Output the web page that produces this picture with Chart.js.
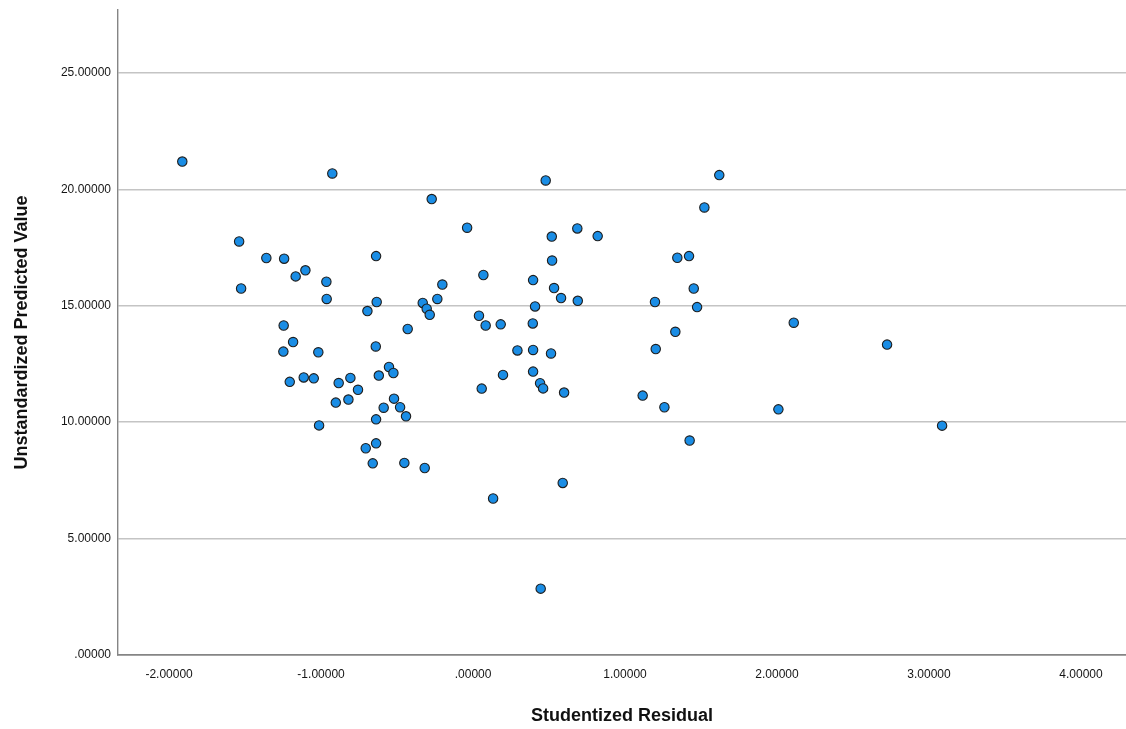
<!DOCTYPE html>
<html>
<head>
<meta charset="utf-8">
<title>Unstandardized Predicted Value vs Studentized Residual</title>
<script src="https://cdn.jsdelivr.net/npm/chart.js@4.4.1/dist/chart.umd.min.js"></script>
<style>
  html, body { margin: 0; padding: 0; background: #ffffff; }
  #wrap { width: 1126px; height: 729px; }
</style>
</head>
<body>
<div id="wrap"><canvas id="chart" width="1126" height="729"></canvas></div>
<script>
// Studentized residuals (x) and unstandardized predicted values (y), one entry per case
const studentizedResidual = [
  -1.913, -0.926, -1.539, -1.360, -1.243, -0.638, -1.103, -1.167, -0.965, -1.526,
  -0.963, -0.634, -0.695, -1.246, -0.430, -1.184, -1.248, -1.018, -0.640, -0.553,
  -0.524, -0.620, -0.807, -1.114, -1.048, -1.206, -0.884, -0.757, -0.820, -0.903,
  -0.520, -0.588, -0.480, -0.441, -0.638, -1.013, -0.638, -0.706, -0.660, -0.452,
   0.478, -0.272, -0.039,  0.518,  0.686,  0.820,  0.520,  0.068,  0.395, -0.202,
   0.533, -0.235,  0.579,  0.689,  1.197, -0.331, -0.305, -0.285,  0.408,  0.039,
   0.083,  0.182,  0.393,  0.292,  0.395,  0.513,  0.197,  0.395,  0.441,  0.461,
   0.057,  0.599,  1.116,  1.202, -0.318,  0.590,  0.132,  0.445,  1.620,  1.522,
   1.344,  1.421,  1.452,  1.474,  2.110,  1.331,  2.724,  1.259,  2.009,  3.086,
   1.425
];
const predictedValue = [
  21.19, 20.68, 17.76, 17.05, 17.02, 17.13, 16.52, 16.26, 16.03, 15.74,
  15.29, 15.16, 14.77, 14.15, 14.00, 13.44, 13.03, 13.00, 13.25, 12.37,
  12.11, 12.00, 11.90, 11.92, 11.88, 11.73, 11.68, 11.39, 10.97, 10.84,
  11.01, 10.62, 10.64, 10.25, 10.12,  9.86,  9.09,  8.88,  8.23,  8.25,
  20.38, 19.58, 18.35, 17.97, 18.32, 17.99, 16.94, 16.32, 16.10, 15.91,
  15.76, 15.29, 15.33, 15.21, 15.16, 15.12, 14.87, 14.61, 14.97, 14.57,
  14.15, 14.20, 14.24, 13.08, 13.10, 12.95, 12.03, 12.17, 11.67, 11.45,
  11.44, 11.27, 11.14, 13.14,  8.03,  7.39,  6.72,  2.85, 20.61, 19.22,
  17.06, 17.13, 15.74, 14.94, 14.27, 13.88, 13.33, 10.64, 10.55,  9.85,
   9.21
];

// Axis tick values
const xTickValues = [-2, -1, 0, 1, 2, 3, 4];
const yTickValues = [0, 5, 10, 15, 20, 25];

// Axis ranges
const xRange = [-2.336, 4.296];
const yRange = [0, 27.7];

// Five-decimal labels with the leading zero dropped (".00000", "-1.00000")
function fiveDecimals(v) {
  let s = Math.abs(v).toFixed(5);
  if (s.startsWith('0.')) s = s.slice(1);
  return (v < 0 ? '-' : '') + s;
}

const points = studentizedResidual.map((x, i) => ({ x: x, y: predictedValue[i] }));

const labelFont = { family: '"Liberation Sans", Arial, sans-serif', size: 12 };
const titleFont = { family: '"Liberation Sans", Arial, sans-serif', size: 18, weight: 'bold' };

new Chart(document.getElementById('chart'), {
  type: 'scatter',
  data: {
    datasets: [{
      data: points,
      backgroundColor: '#1a8de5',
      borderColor: '#1e1e1e',
      borderWidth: 1.1,
      pointRadius: 4.7,
      pointHoverRadius: 4.7,
      clip: false
    }]
  },
  options: {
    responsive: false,
    animation: false,
    devicePixelRatio: 1,
    layout: { autoPadding: false, padding: { top: 10, right: 0, bottom: 0, left: 0 } },
    plugins: {
      legend: { display: false },
      tooltip: { enabled: false }
    },
    scales: {
      x: {
        type: 'linear',
        position: 'bottom',
        min: xRange[0],
        max: xRange[1],
        afterBuildTicks: (axis) => { axis.ticks = xTickValues.map(v => ({ value: v })); },
        afterFit: (axis) => { axis.height = 74; },
        grid: { display: false, drawTicks: false },
        border: { display: true, color: '#858585', width: 1.8 },
        ticks: {
          padding: 12,
          color: '#151515',
          font: labelFont,
          maxRotation: 0,
          callback: (v) => fiveDecimals(v)
        },
        title: {
          display: true,
          text: 'Studentized Residual',
          color: '#111111',
          font: titleFont,
          padding: { top: 0, bottom: 2 }
        }
      },
      y: {
        type: 'linear',
        position: 'left',
        min: yRange[0],
        max: yRange[1],
        afterBuildTicks: (axis) => { axis.ticks = yTickValues.map(v => ({ value: v })); },
        afterFit: (axis) => {
          axis.width = 118;
          // the top tick sits well below the edge, so no label overflow room is needed
          axis.paddingTop = 0;
          axis.paddingBottom = 0;
        },
        grid: {
          display: true,
          drawTicks: false,
          color: (ctx) => (ctx.tick && ctx.tick.value === 0) ? 'rgba(0,0,0,0)' : '#c4c4c4',
          lineWidth: 1.4
        },
        border: { display: true, color: '#858585', width: 1.4 },
        ticks: {
          padding: 7,
          color: '#151515',
          font: labelFont,
          callback: (v) => fiveDecimals(v)
        },
        title: {
          display: true,
          text: 'Unstandardized Predicted Value',
          color: '#111111',
          font: titleFont,
          padding: { top: 11, bottom: 0 }
        }
      }
    }
  }
});
</script>
</body>
</html>
